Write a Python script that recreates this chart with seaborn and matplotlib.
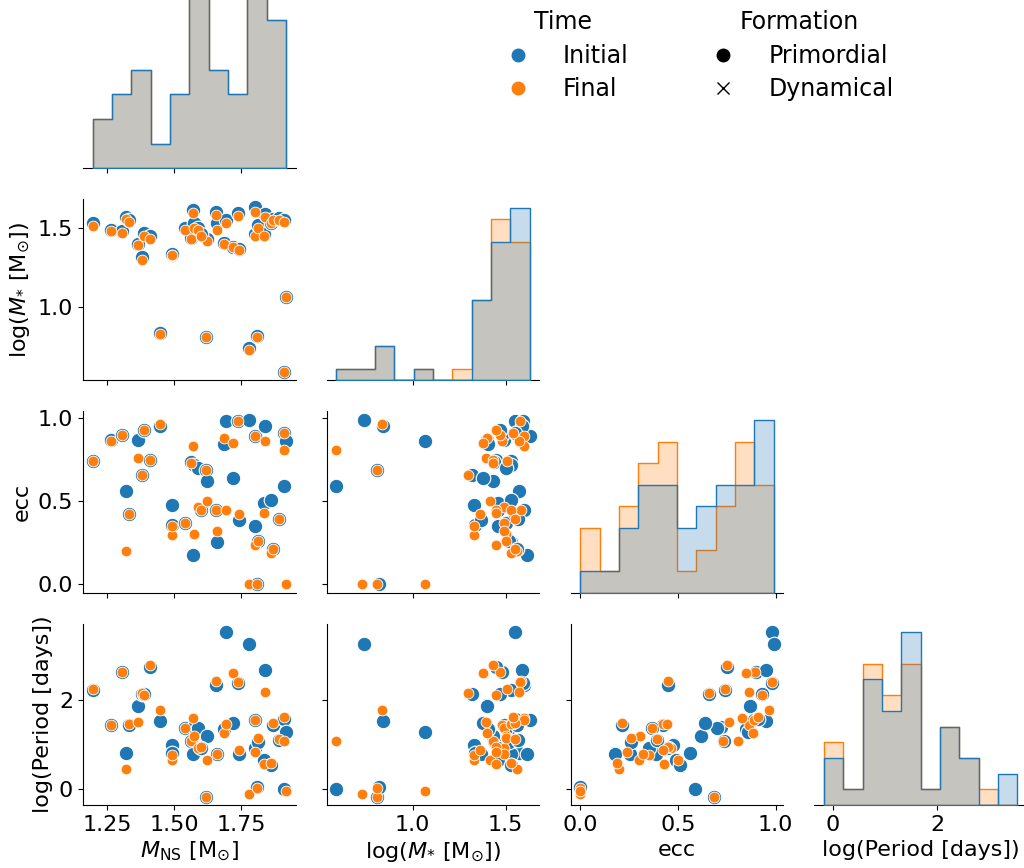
import pandas as pd
import seaborn as sns
import matplotlib.pyplot as plt
from matplotlib.lines import Line2D
from matplotlib.offsetbox import HPacker, DrawingArea

plt.rcParams['font.size'] = 16

# one entry per binary, initial and final state
m_ns = [1.195, 1.264, 1.304, 1.32, 1.33, 1.364, 1.379, 1.387, 1.408, 1.445,
        1.49, 1.492, 1.539, 1.564, 1.568, 1.575, 1.59, 1.62, 1.622, 1.60,
        1.657, 1.66, 1.685, 1.694, 1.72, 1.737, 1.74, 1.777, 1.80, 1.802,
        1.81, 1.812, 1.84, 1.835, 1.862, 1.87, 1.89, 1.91, 1.908, 1.917]
logm_init = [1.53, 1.49, 1.48, 1.57, 1.55, 1.40, 1.32, 1.47, 1.45, 0.84,
             1.33, 1.335, 1.50, 1.44, 1.615, 1.53, 1.50, 0.81, 1.43, 1.46,
             1.60, 1.53, 1.405, 1.55, 1.38, 1.595, 1.37, 0.74, 1.63, 1.46,
             0.82, 1.52, 1.59, 1.46, 1.53, 1.56, 1.565, 1.55, 0.59, 1.065]
logm_final = [1.51, 1.48, 1.47, 1.56, 1.54, 1.395, 1.30, 1.45, 1.43, 0.834,
              1.33, 1.33, 1.49, 1.43, 1.597, 1.50, 1.49, 0.81, 1.416, 1.45,
              1.58, 1.49, 1.40, 1.53, 1.38, 1.575, 1.36, 0.73, 1.60, 1.45,
              0.81, 1.50, 1.57, 1.45, 1.53, 1.55, 1.55, 1.54, 0.59, 1.065]
ecc_init = [0.74, 0.87, 0.90, 0.56, 0.425, 0.87, 0.66, 0.93, 0.75, 0.95,
            0.476, 0.36, 0.37, 0.735, 0.18, 0.72, 0.70, 0.686, 0.62, 0.45,
            0.45, 0.254, 0.847, 0.98, 0.64, 0.98, 0.39, 0.99, 0.89, 0.35,
            0.0, 0.26, 0.95, 0.49, 0.51, 0.213, 0.395, 0.91, 0.59, 0.86]
ecc_final = [0.74, 0.863, 0.897, 0.20, 0.425, 0.76, 0.66, 0.93, 0.75, 0.965,
             0.30, 0.353, 0.37, 0.73, 0.83, 0.305, 0.466, 0.686, 0.50, 0.45,
             0.45, 0.32, 0.883, 0.445, 0.85, 0.98, 0.423, 0.0, 0.89, 0.238,
             0.0, 0.26, 0.863, 0.43, 0.19, 0.213, 0.395, 0.91, 0.81, 0.0]
logp_init = [2.22, 1.44, 2.64, 0.81, 1.44, 1.86, 2.15, 2.13, 2.75, 1.53,
             1.0, 0.81, 1.38, 1.09, 0.80, 1.40, 1.38, -0.165, 1.20, 0.93,
             2.35, 0.8, 1.35, 3.53, 1.49, 2.39, 0.80, 3.27, 1.56, 0.92,
             0.06, 1.07, 2.68, 0.66, 0.55, 1.45, 1.11, 1.58, 0.0, 1.28]
logp_final = [2.26, 1.44, 2.64, 0.46, 1.47, 1.51, 2.17, 2.12, 2.80, 1.79,
              0.65, 0.77, 1.38, 1.09, 1.60, 1.20, 0.92, -0.165, 0.65, 0.95,
              2.44, 0.8, 1.26, 1.47, 2.60, 2.41, 0.89, -0.11, 1.56, 0.83,
              0.02, 1.15, 2.18, 0.58, 0.60, 1.49, 1.13, 1.62, 1.08, -0.04]

time_order = ["Initial", "Final"]
formation_order = ["Primordial", "Dynamical"]
cols = [r"$M_{\rm NS}$ [M$_{\odot}$]", r"log($M_{*}$ [M$_{\odot}$])",
        "ecc", "log(Period [days])"]

initial = pd.DataFrame({cols[0]: m_ns, cols[1]: logm_init,
                        cols[2]: ecc_init, cols[3]: logp_init})
initial["Time"] = "Initial"
final = pd.DataFrame({cols[0]: m_ns, cols[1]: logm_final,
                      cols[2]: ecc_final, cols[3]: logp_final})
final["Time"] = "Final"
df = pd.concat([initial, final], ignore_index=True)
df["Formation"] = "Primordial"

marker_sizes = {"Initial": 110, "Final": 60}


def scatter_time(x, y, label=None, color=None, **kws):
    sns.scatterplot(x=x, y=y, color=color, s=marker_sizes[label],
                    marker="o", edgecolor="white")


g = sns.PairGrid(df, vars=cols, hue="Time", hue_order=time_order,
                 corner=True, diag_sharey=False)
g.map_diag(sns.histplot, element="step", bins=10, legend=False)
g.map_lower(scatter_time)

palette = sns.color_palette()
handles = [Line2D([], [], visible=False),
           Line2D([], [], ls="", marker="o", color=palette[0], markersize=9),
           Line2D([], [], ls="", marker="o", color=palette[1], markersize=9),
           Line2D([], [], visible=False),
           Line2D([], [], ls="", marker="o", color="black", markersize=9),
           Line2D([], [], ls="", marker="x", color="black", markersize=9)]
labels = ["Time"] + time_order + ["Formation"] + formation_order
leg = g.figure.legend(handles, labels, ncol=2, loc="upper left",
                      bbox_to_anchor=(0.4616, 1.0125), frameon=False,
                      fontsize=17, columnspacing=3.0, labelspacing=0.4,
                      handletextpad=0.93)
# subtitles sit a bit left of the entries
for hp in leg.findobj(HPacker):
    kids = hp.get_children()
    if len(kids) == 2 and isinstance(kids[0], DrawingArea):
        if not all(a.get_visible() for a in kids[0].get_children()):
            kids[0].set_width(13)

g.figure.set_size_inches(10.24, 8.68)
g.figure.subplots_adjust(left=0.081, right=1.003, bottom=0.0726, top=1.015,
                         wspace=0.146, hspace=0.171)
g.figure.savefig("out.png", dpi=100)
